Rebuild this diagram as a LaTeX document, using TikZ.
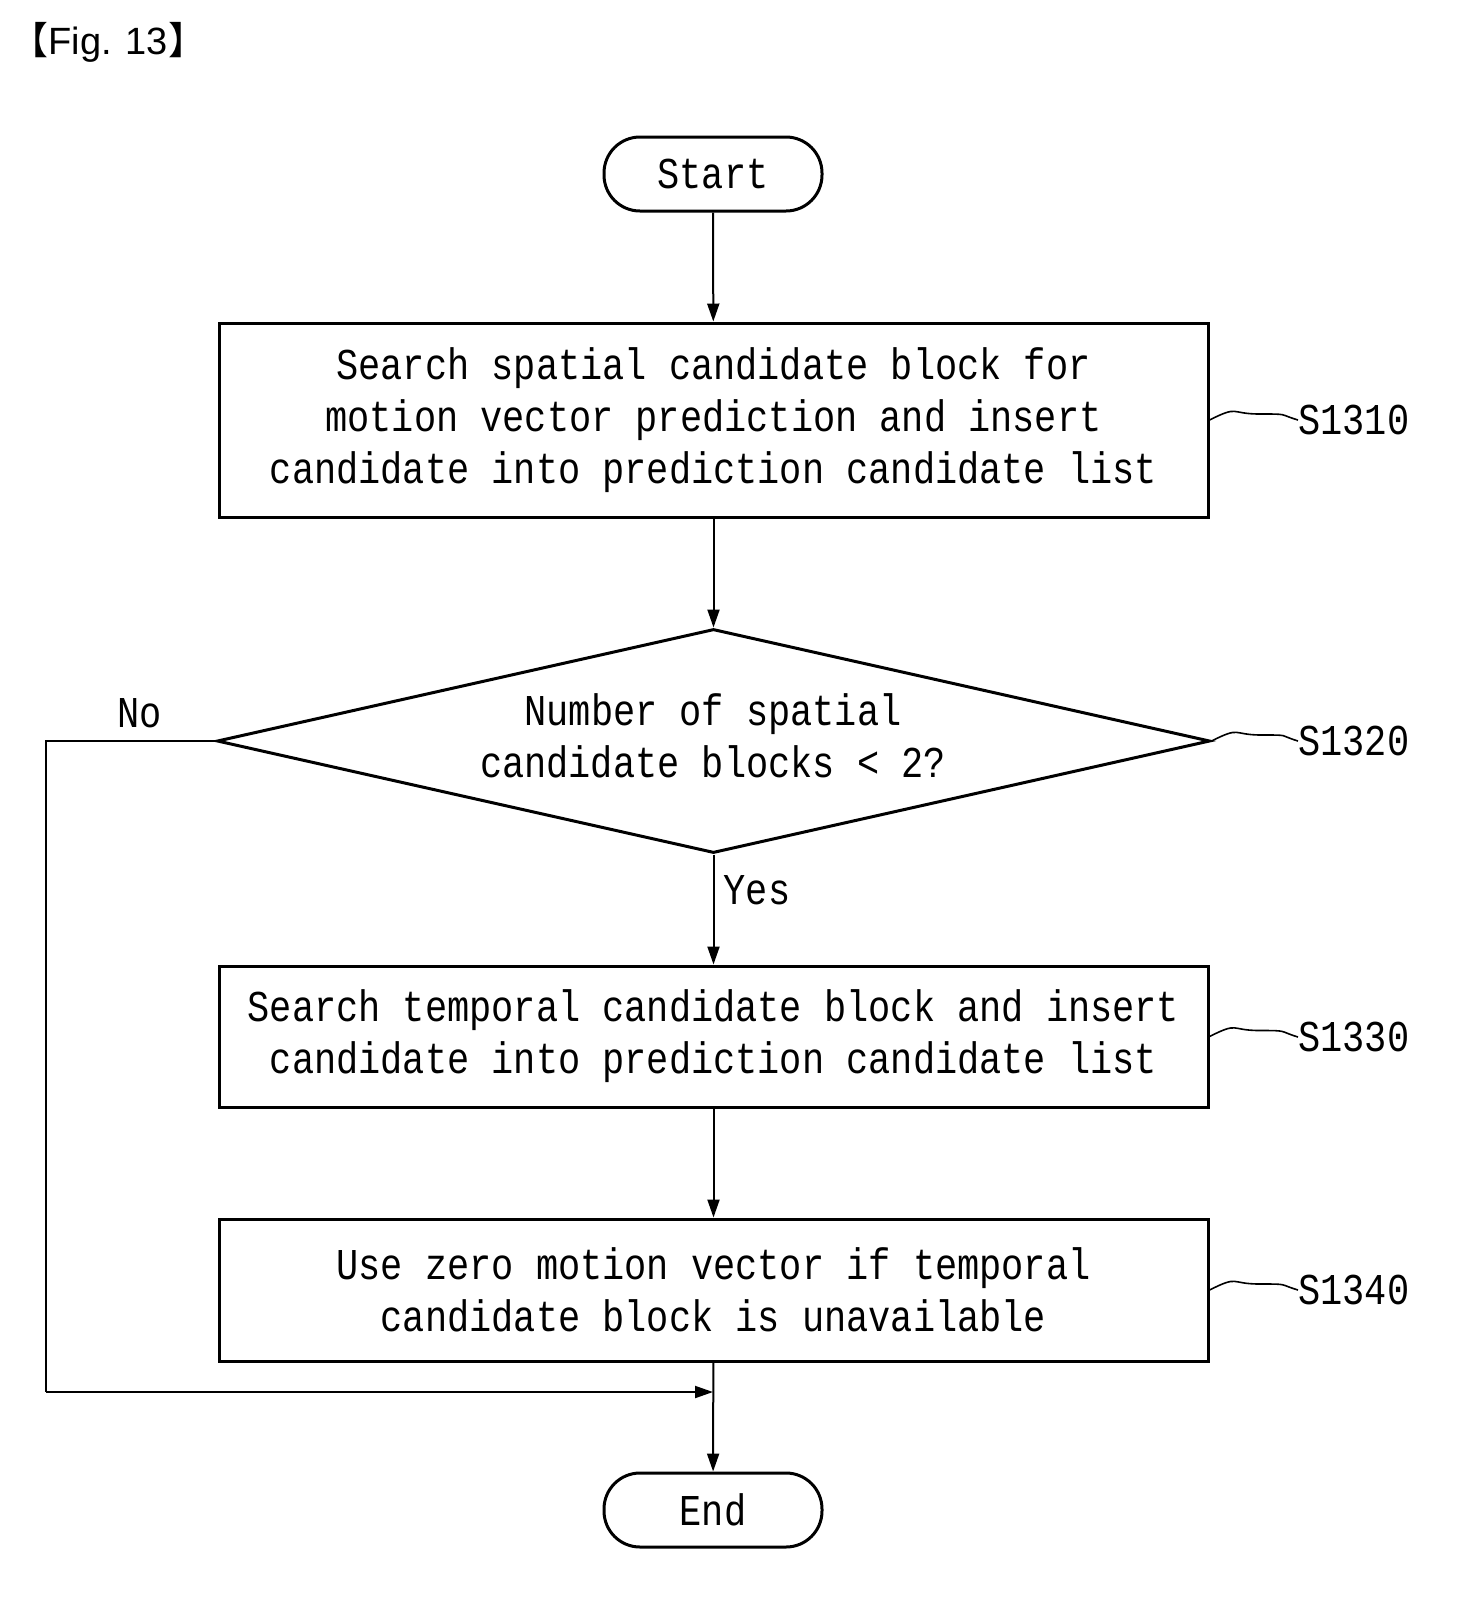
\documentclass[tikz,border=0pt]{standalone}
\usepackage{fontspec}
\setmainfont{Liberation Mono}[FakeStretch=0.84]
\newfontfamily\figfont{Liberation Sans}
\newfontfamily\cjk{Noto Sans CJK SC}
\usetikzlibrary{shapes.geometric,arrows.meta}
\begin{document}
\begin{tikzpicture}[x=0.5pt,y=-0.5pt,
  box/.style={draw,line width=1.5pt,inner sep=0},
  txt/.style={font=\fontsize{22}{26}\selectfont,align=center},
  arr/.style={line width=1pt,-{Triangle[length=9pt,width=6pt]}},
  lab/.style={font=\fontsize{22}{22}\selectfont,anchor=west,inner sep=0}]
\useasboundingbox (0,0) rectangle (1465,1608);
\node[font=\figfont\fontsize{19}{20}\selectfont,anchor=west,inner sep=0] (fig) at (10,42) {{\cjk 【}Fig. 13{\cjk 】}};
\node[box,rounded corners=18pt,minimum width=109pt,minimum height=37pt,txt] (start) at (713,174) {Start};
\node[box,minimum width=494.5pt,minimum height=97pt,txt] (s1) at (713.5,420) {Search spatial candidate block for\\motion vector prediction and insert\\candidate into prediction candidate list};
\node[draw,line width=1.5pt,diamond,aspect=4.43,inner sep=0,minimum width=496.5pt,minimum height=112pt] (d) at (713.5,741) {};
\node[txt] at (713,736) {Number of spatial\\candidate blocks < 2?};
\node[box,minimum width=494.5pt,minimum height=70.5pt,txt] (s3) at (713.5,1036.5) {Search temporal candidate block and insert\\candidate into prediction candidate list};
\node[box,minimum width=494.5pt,minimum height=71pt,txt] (s4) at (713.5,1290) {Use zero motion vector if temporal\\candidate block is unavailable};
\node[box,rounded corners=18pt,minimum width=109pt,minimum height=37pt,txt] (end) at (713,1510) {End};
\coordinate (c1) at (46,741);
\coordinate (c2) at (46,1392);
\coordinate (c3) at (713,1392);
\draw[arr] (start) -- (s1);
\draw[arr] (s1) -- (d.north);
\draw[arr] (d.south) -- (s3);
\draw[arr] (s3) -- (s4);
\draw[arr] (s4) -- (end);
\draw[line width=1pt] (d.west) -- (c1) -- (c2);
\draw[arr] (c2) -- (c3);
\node[txt] (no) at (140,713) {No};
\node[txt] (yes) at (757,890) {Yes};
\foreach \n/\yy/\t/\src in {a/420/S1310/s1.east, b/741/S1320/d.east, c/1037/S1330/s3.east, e/1290/S1340/s4.east}{
  \node[lab] (\n) at (1298,\yy) {\t};
  \draw[line width=0.8pt] (\src) .. controls +(30,-15) and +(-30,0) .. ++(50,-6) .. controls +(30,0) and +(-20,-6) .. (\n.west);
}
\end{tikzpicture}
\end{document}
